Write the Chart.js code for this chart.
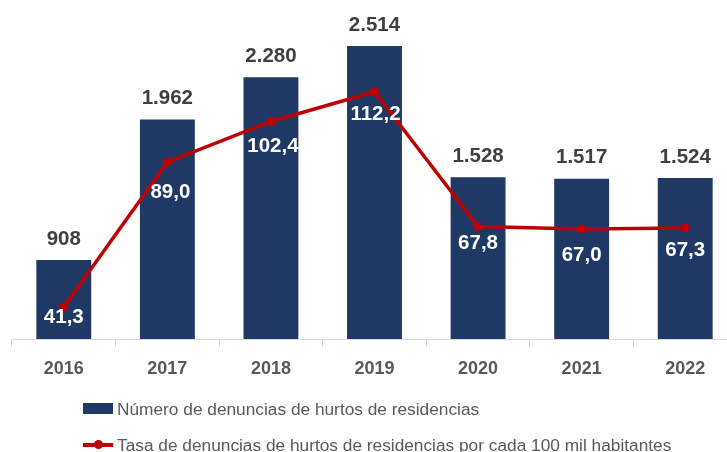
<!DOCTYPE html>
<html lang="es">
<head>
<meta charset="utf-8">
<script src="https://cdn.jsdelivr.net/npm/chart.js@4.4.1/dist/chart.umd.min.js"></script>
<style>
  html, body { margin: 0; padding: 0; background: #fff; overflow: hidden; }
  #wrap { position: relative; width: 727px; height: 452px; overflow: hidden; }
  #grafico { position: absolute; left: 0; top: 0; }
  .leyenda { position: absolute; left: 83px; font-family: "Liberation Sans", Arial, sans-serif;
             font-size: 17.3px; color: #595959; white-space: nowrap; line-height: 20px; }
  .leyenda span.txt { position: absolute; left: 34px; top: 0; }
  .caja { position: absolute; left: 0; width: 30px; height: 11px; background: #203864; }
  .linea { position: absolute; left: 0; width: 30px; height: 4px; background: #C00000; }
  .punto { position: absolute; left: 11px; width: 9px; height: 9px; border-radius: 50%; background: #C00000; }
</style>
</head>
<body>
<div id="wrap">
  <canvas id="grafico" width="745" height="452"></canvas>
  <div class="leyenda" id="ley1" style="top:399px">
    <div class="caja" style="top:4px"></div><span class="txt"></span>
  </div>
  <div class="leyenda" id="ley2" style="top:435px">
    <div class="linea" style="top:8px"></div><div class="punto" style="top:5px"></div><span class="txt"></span>
  </div>
</div>
<script>
// ==============================
// DATOS
// ==============================
const anios = ["2016", "2017", "2018", "2019", "2020", "2021", "2022"];
const denuncias = [908, 1962, 2280, 2514, 1528, 1517, 1524];
const tasa = [41.3, 89.0, 102.4, 112.2, 67.8, 67.0, 67.3];

const nombreBarras = "Número de denuncias de hurtos de residencias";
const nombreLinea = "Tasa de denuncias de hurtos de residencias por cada 100 mil habitantes";

const AZUL = "#203864";
const ROJO = "#C00000";
const FUENTE = '"Liberation Sans", Arial, sans-serif';

// separador de miles con punto, decimales con coma
function fmtMiles(v) {
  return String(v).replace(/\B(?=(\d{3})+(?!\d))/g, ".");
}
function fmtDecimal(v) {
  return v.toFixed(1).replace(".", ",");
}

// etiquetas de valores (no hay plugin datalabels)
const etiquetas = {
  id: "etiquetas",
  afterDatasetsDraw(chart, args, opts) {
    const ctx = chart.ctx;
    ctx.save();
    ctx.textAlign = "center";
    ctx.textBaseline = "middle";
    ctx.font = "bold 20.5px " + FUENTE;

    const barras = chart.getDatasetMeta(1);
    ctx.fillStyle = "#404040";
    barras.data.forEach((el, i) => {
      ctx.fillText(fmtMiles(denuncias[i]), el.x, el.y - 21);
    });

    const linea = chart.getDatasetMeta(0);
    ctx.fillStyle = "#ffffff";
    linea.data.forEach((el, i) => {
      ctx.fillText(fmtDecimal(tasa[i]), el.x + opts.corre[i], el.y + opts.desplaza[i]);
    });
    ctx.restore();
  }
};

const ctx = document.getElementById("grafico").getContext("2d");
new Chart(ctx, {
  type: "bar",
  data: {
    labels: anios,
    datasets: [
      {
        type: "line",
        label: nombreLinea,
        data: tasa,
        yAxisID: "yTasa",
        borderColor: ROJO,
        backgroundColor: ROJO,
        borderWidth: 3.5,
        pointRadius: 4.5,
        pointBackgroundColor: ROJO,
        pointBorderWidth: 0,
        tension: 0,
        clip: false,
        order: 0
      },
      {
        label: nombreBarras,
        data: denuncias,
        yAxisID: "yDen",
        backgroundColor: AZUL,
        borderWidth: 0,
        categoryPercentage: 1,
        barPercentage: 0.53,
        order: 1
      }
    ]
  },
  options: {
    responsive: false,
    devicePixelRatio: 1,
    animation: false,
    layout: { autoPadding: false, padding: { left: 12, right: 8, top: 0, bottom: 67 } },
    plugins: {
      legend: { display: false },
      tooltip: { enabled: false },
      etiquetas: {
        desplaza: [10, 30, 25, 23, 17, 26, 22],
        corre: [0, 3, 2, 1, 0, 0, 0]
      }
    },
    scales: {
      x: {
        afterFit(scale) { scale.height = 46; },
        grid: {
          offset: true,
          drawOnChartArea: false,
          drawTicks: true,
          tickLength: 8,
          color: "#D9D9D9"
        },
        border: { display: true, color: "#D9D9D9", width: 1 },
        ticks: {
          color: "#595959",
          padding: 11,
          font: { family: FUENTE, size: 18, weight: "bold" }
        }
      },
      yDen: {
        display: false,
        position: "left",
        min: 315,
        max: 2859
      },
      yTasa: {
        display: false,
        position: "right",
        min: 30.76,
        max: 142.4
      }
    }
  },
  plugins: [etiquetas]
});

document.querySelector("#ley1 .txt").textContent = nombreBarras;
document.querySelector("#ley2 .txt").textContent = nombreLinea;
</script>
</body>
</html>
